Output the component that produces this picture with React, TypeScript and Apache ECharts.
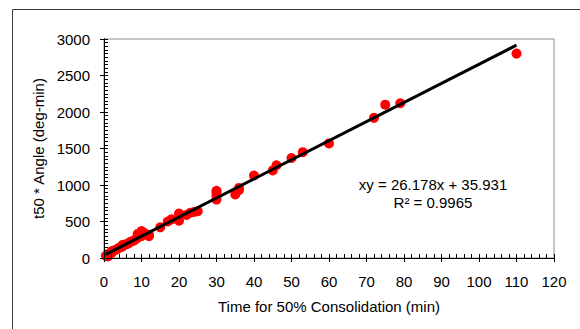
import React, { useEffect, useRef } from "react";
import * as echarts from "echarts";

const timeMin: number[] = [
  0.5, 1, 1, 1.5, 2, 2, 2.5, 3, 3.5, 4, 4.5, 5, 5, 6, 6.5, 7, 7.5, 8, 8.5, 9, 9, 10, 10, 10.5, 11, 12, 12,
  15, 17, 18, 20, 20, 22, 23, 24, 25,
  30, 30, 30, 30, 35, 36, 36, 40, 45, 46, 50, 53, 60, 72, 75, 79, 110,
];
const t50Angle: number[] = [
  30, 20, 50, 60, 70, 90, 100, 110, 120, 140, 150, 160, 180, 190, 200, 220, 230, 240, 260, 280, 330, 300, 370, 350, 330, 300, 320,
  420, 500, 530, 610, 510, 590, 620, 630, 640,
  800, 850, 900, 920, 870, 930, 960, 1130, 1200, 1270, 1370, 1450, 1570, 1920, 2100, 2120, 2800,
];
const slope = 26.178;
const intercept = 35.931;
const trendX: number[] = [0.5, 110];
const xTicks = { min: 0, max: 120, interval: 10 };
const yTicks = { min: 0, max: 3000, interval: 500 };
const equationText = "xy = 26.178x + 35.931";
const r2Text = "R\u00B2 = 0.9965";

const FONT = "'Liberation Sans', Arial, sans-serif";

export default function App() {
  const ref = useRef<HTMLDivElement>(null);
  useEffect(() => {
    if (!ref.current) return;
    const chart = echarts.init(ref.current, undefined, { renderer: "svg" });
    const points = timeMin.map((x, i) => [x, t50Angle[i]]);
    const trend = trendX.map((x) => [x, slope * x + intercept]);
    const axisLabel = { color: "#000", fontSize: 15, fontFamily: FONT, formatter: (v: number) => String(v) };
    chart.setOption({
      animation: false,
      backgroundColor: "#fff",
      textStyle: { fontFamily: FONT },
      grid: {
        left: 104,
        top: 39,
        right: 26,
        bottom: 71,
        show: true,
        borderColor: "#8c8c8c",
        borderWidth: 1,
      },
      xAxis: [
        {
          type: "value",
          ...xTicks,
          position: "bottom",
          name: "Time for 50% Consolidation (min)",
          nameLocation: "middle",
          nameGap: 41,
          nameTextStyle: { color: "#000", fontSize: 15, fontFamily: FONT },
          axisLine: { show: true, lineStyle: { color: "#000", width: 1 } },
          axisTick: { show: true, inside: false, length: 4, lineStyle: { color: "#000" } },
          axisLabel: { ...axisLabel, margin: 16 },
          splitLine: { show: false },
          z: 5,
        },
        {
          type: "value",
          ...xTicks,
          position: "bottom",
          offset: 0,
          axisLine: { show: true, lineStyle: { color: "#000", width: 1 } },
          axisTick: { show: true, inside: true, length: 4, lineStyle: { color: "#000" } },
          minorTick: { show: true, splitNumber: 5, length: 4, lineStyle: { color: "#000" } },
          axisLabel: { show: false },
          splitLine: { show: false },
          z: 5,
        },
      ],
      yAxis: [
        {
          type: "value",
          ...yTicks,
          position: "left",
          name: "t50 * Angle (deg-min)",
          nameLocation: "middle",
          nameGap: 50,
          nameTextStyle: { color: "#000", fontSize: 15, fontFamily: FONT },
          axisLine: { show: true, lineStyle: { color: "#000", width: 1 } },
          axisTick: { show: true, inside: false, length: 4, lineStyle: { color: "#000" } },
          axisLabel: { ...axisLabel, margin: 14 },
          splitLine: { show: false },
          z: 5,
        },
        {
          type: "value",
          ...yTicks,
          position: "left",
          offset: 0,
          axisLine: { show: true, lineStyle: { color: "#000", width: 1 } },
          axisTick: { show: true, inside: true, length: 4, lineStyle: { color: "#000" } },
          minorTick: { show: true, splitNumber: 10, length: 4, lineStyle: { color: "#000" } },
          axisLabel: { show: false },
          splitLine: { show: false },
          z: 5,
        },
      ],
      series: [
        {
          type: "scatter",
          xAxisIndex: 0,
          yAxisIndex: 0,
          data: points,
          symbol: "circle",
          symbolSize: 10,
          itemStyle: { color: "#ff0000", opacity: 1 },
          z: 2,
        },
        {
          type: "scatter",
          xAxisIndex: 1,
          yAxisIndex: 1,
          data: points,
          symbolSize: 0,
          silent: true,
          itemStyle: { opacity: 0 },
          z: 1,
        },
        {
          type: "line",
          xAxisIndex: 0,
          yAxisIndex: 0,
          data: trend,
          symbol: "none",
          lineStyle: { color: "#000", width: 3 },
          z: 3,
        },
      ],
      graphic: [
        {
          type: "rect",
          shape: { x: 12.5, y: 9.5, width: 620, height: 400 },
          style: { fill: "none", stroke: "#3a3a3a", lineWidth: 1 },
          silent: true,
        },
        {
          type: "text",
          x: 433,
          y: 184,
          style: {
            text: equationText,
            fill: "#000",
            fontSize: 15,
            fontFamily: FONT,
            textAlign: "center",
            textVerticalAlign: "middle",
          },
        },
        {
          type: "text",
          x: 433,
          y: 202,
          style: {
            text: r2Text,
            fill: "#000",
            fontSize: 15,
            fontFamily: FONT,
            textAlign: "center",
            textVerticalAlign: "middle",
          },
        },
      ],
    });
    return () => chart.dispose();
  }, []);
  return (
    <div
      ref={ref}
      style={{ position: "fixed", left: 0, top: 0, width: 580, height: 329 }}
    />
  );
}
